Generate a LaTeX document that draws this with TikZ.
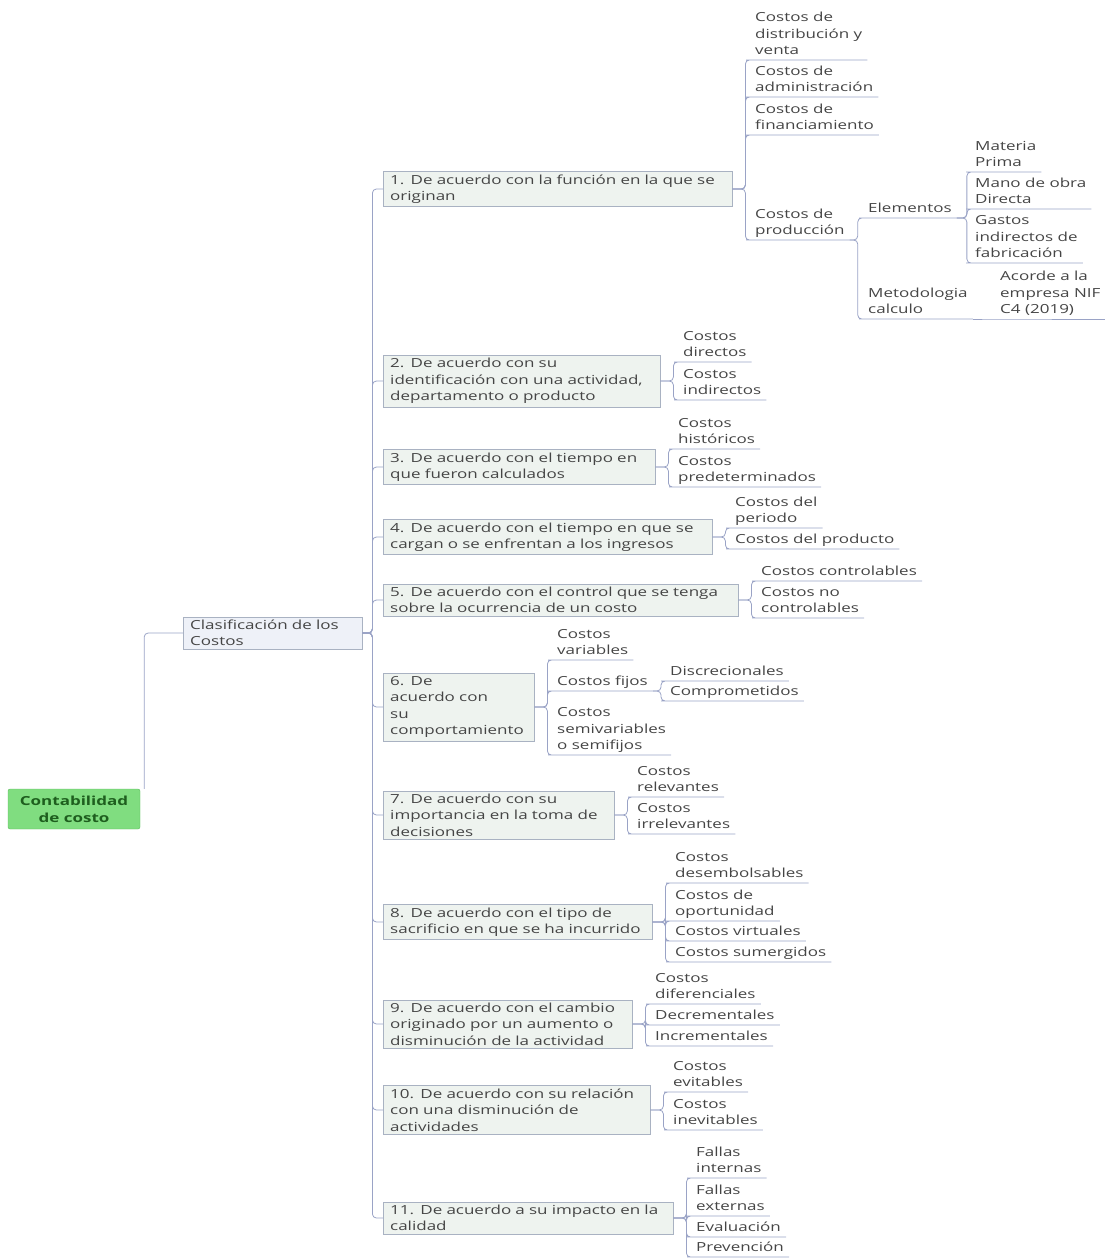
\documentclass[tikz,border=0pt]{standalone}
\usepackage{fontspec}
\setmainfont{Open Sans}[FakeStretch=1.36]
\usepackage{tikz}
\newcommand{\mmfont}{\fontsize{12.5}{16.5}\selectfont}
\definecolor{linecol}{HTML}{9AA3C6}
\definecolor{boxfill}{HTML}{EEF3EF}
\definecolor{boxdraw}{HTML}{A9B2C2}
\definecolor{txtcol}{HTML}{454545}
\definecolor{rootfill}{HTML}{80DD80}
\definecolor{rootdraw}{HTML}{5DBB5D}
\definecolor{roottxt}{HTML}{1E5E1E}
\definecolor{clsfill}{HTML}{EEF1F8}
\tikzstyle{branch} = [
    rectangle, draw=boxdraw, fill=boxfill, anchor=west, align=left,
    inner xsep=7pt, inner ysep=3pt, text=txtcol
]
\tikzstyle{leaf} = [
    anchor=south west, align=left, inner xsep=5pt, inner ysep=2pt,
    text depth=3pt, text=txtcol
]
\tikzstyle{conn} = [draw=linecol, line width=0.8pt, rounded corners=4pt]

\begin{document}
\begin{tikzpicture}[x=1pt, y=-1pt, font=\mmfont]
        \useasboundingbox (0,0) rectangle (1104,1258);
        \node (root) [rectangle, draw=rootdraw, fill=rootfill, rounded corners=2pt,
            minimum width=132pt, minimum height=40pt, align=center, text=roottxt,
            font=\fontsize{12.5}{17}\selectfont\bfseries] at (74,809)
            {Contabilidad\\de costo};
        \node (clasif) [branch, fill=clsfill, text width=165pt] at (183,633)
            {Clasificación de los\\Costos};

        \node (b1) [branch, text width=335pt] at (383,189)
            {1. De acuerdo con la función en la que se\\originan};
        \node (b2) [branch, text width=263pt] at (383,381)
            {2. De acuerdo con su\\identificación con una actividad,\\departamento o producto};
        \node (b3) [branch, text width=258pt] at (383,467)
            {3. De acuerdo con el tiempo en\\que fueron calculados};
        \node (b4) [branch, text width=315pt] at (383,537)
            {4. De acuerdo con el tiempo en que se\\cargan o se enfrentan a los ingresos};
        \node (b5) [branch, text width=341pt] at (383,600)
            {5. De acuerdo con el control que se tenga\\sobre la ocurrencia de un costo};
        \node (b6) [branch, text width=137pt] at (383,707)
            {6. De\\acuerdo con\\su\\comportamiento};
        \node (b7) [branch, text width=217pt] at (383,815)
            {7. De acuerdo con su\\importancia en la toma de\\decisiones};
        \node (b8) [branch, text width=255pt] at (383,922)
            {8. De acuerdo con el tipo de\\sacrificio en que se ha incurrido};
        \node (b9) [branch, text width=235pt] at (383,1024)
            {9. De acuerdo con el cambio\\originado por un aumento o\\disminución de la actividad};
        \node (b10) [branch, text width=253pt] at (383,1110)
            {10. De acuerdo con su relación\\con una disminución de\\actividades};
        \node (b11) [branch, text width=276pt] at (383,1218)
            {11. De acuerdo a su impacto en la\\calidad};

        \node (c11) [leaf] at (750,60) {Costos de\\distribución y\\venta};
        \node (c12) [leaf] at (750,97) {Costos de\\administración};
        \node (c13) [leaf] at (750,135) {Costos de\\financiamiento};
        \node (c14) [leaf] at (750,240) {Costos de\\producción};
        \node (e1) [leaf] at (863,218) {Elementos};
        \node (m1) [leaf] at (863,319) {Metodologia\\calculo};
        \node (e11) [leaf] at (970,172) {Materia\\Prima};
        \node (e12) [leaf] at (970,209) {Mano de obra\\Directa};
        \node (e13) [leaf] at (970,263) {Gastos\\indirectos de\\fabricación};
        \node (m11) [leaf] at (995,319) {Acorde a la\\empresa NIF\\C4 (2019)};

        \node (c21) [leaf] at (678,362) {Costos\\directos};
        \node (c22) [leaf] at (678,400) {Costos\\indirectos};
        \node (c31) [leaf] at (673,449) {Costos\\históricos};
        \node (c32) [leaf] at (673,487) {Costos\\predeterminados};
        \node (c41) [leaf] at (730,528) {Costos del\\periodo};
        \node (c42) [leaf] at (730,549) {Costos del producto};
        \node (c51) [leaf] at (756,581) {Costos controlables};
        \node (c52) [leaf] at (756,618) {Costos no\\controlables};
        \node (c61) [leaf] at (552,660) {Costos\\variables};
        \node (c62) [leaf] at (552,691) {Costos fijos};
        \node (c63) [leaf] at (552,755) {Costos\\semivariables\\o semifijos};
        \node (f1) [leaf] at (665,681) {Discrecionales};
        \node (f2) [leaf] at (665,701) {Comprometidos};
        \node (c71) [leaf] at (632,797) {Costos\\relevantes};
        \node (c72) [leaf] at (632,834) {Costos\\irrelevantes};
        \node (c81) [leaf] at (670,883) {Costos\\desembolsables};
        \node (c82) [leaf] at (670,921) {Costos de\\oportunidad};
        \node (c83) [leaf] at (670,941) {Costos virtuales};
        \node (c84) [leaf] at (670,962) {Costos sumergidos};
        \node (c91) [leaf] at (650,1004) {Costos\\diferenciales};
        \node (c92) [leaf] at (650,1025) {Decrementales};
        \node (c93) [leaf] at (650,1046) {Incrementales};
        \node (c101) [leaf] at (668,1092) {Costos\\evitables};
        \node (c102) [leaf] at (668,1130) {Costos\\inevitables};
        \node (c111) [leaf] at (691,1178) {Fallas\\internas};
        \node (c112) [leaf] at (691,1216) {Fallas\\externas};
        \node (c113) [leaf] at (691,1237) {Evaluación};
        \node (c114) [leaf] at (691,1257) {Prevención};

        \draw [conn] ([xshift=4pt]root.north east) |- (clasif.west);
        \draw [conn] (clasif.east) -- ++(10,0) |- (b1.west);
        \draw [conn] (clasif.east) -- ++(10,0) |- (b2.west);
        \draw [conn] (clasif.east) -- ++(10,0) |- (b3.west);
        \draw [conn] (clasif.east) -- ++(10,0) |- (b4.west);
        \draw [conn] (clasif.east) -- ++(10,0) |- (b5.west);
        \draw [conn] (clasif.east) -- ++(10,0) |- (b6.west);
        \draw [conn] (clasif.east) -- ++(10,0) |- (b7.west);
        \draw [conn] (clasif.east) -- ++(10,0) |- (b8.west);
        \draw [conn] (clasif.east) -- ++(10,0) |- (b9.west);
        \draw [conn] (clasif.east) -- ++(10,0) |- (b10.west);
        \draw [conn] (clasif.east) -- ++(10,0) |- (b11.west);

        \draw [conn] (b1.east) -- ++(13,0) |- (c11.south west) -- (c11.south east);
        \draw [conn] (b1.east) -- ++(13,0) |- (c12.south west) -- (c12.south east);
        \draw [conn] (b1.east) -- ++(13,0) |- (c13.south west) -- (c13.south east);
        \draw [conn] (b1.east) -- ++(13,0) |- (c14.south west) -- (c14.south east);
        \draw [conn] (c14.south east) -- ++(8,0) |- (e1.south west) -- (e1.south east);
        \draw [conn] (c14.south east) -- ++(8,0) |- (m1.south west) -- (m1.south east);
        \draw [conn] (e1.south east) -- ++(10,0) |- (e11.south west) -- (e11.south east);
        \draw [conn] (e1.south east) -- ++(10,0) |- (e12.south west) -- (e12.south east);
        \draw [conn] (e1.south east) -- ++(10,0) |- (e13.south west) -- (e13.south east);
        \draw [conn] (m1.south east) -- (m11.south west) -- (m11.south east);

        \draw [conn] (b2.east) -- ++(13,0) |- (c21.south west) -- (c21.south east);
        \draw [conn] (b2.east) -- ++(13,0) |- (c22.south west) -- (c22.south east);
        \draw [conn] (b3.east) -- ++(13,0) |- (c31.south west) -- (c31.south east);
        \draw [conn] (b3.east) -- ++(13,0) |- (c32.south west) -- (c32.south east);
        \draw [conn] (b4.east) -- ++(13,0) |- (c41.south west) -- (c41.south east);
        \draw [conn] (b4.east) -- ++(13,0) |- (c42.south west) -- (c42.south east);
        \draw [conn] (b5.east) -- ++(13,0) |- (c51.south west) -- (c51.south east);
        \draw [conn] (b5.east) -- ++(13,0) |- (c52.south west) -- (c52.south east);
        \draw [conn] (b6.east) -- ++(13,0) |- (c61.south west) -- (c61.south east);
        \draw [conn] (b6.east) -- ++(13,0) |- (c62.south west) -- (c62.south east);
        \draw [conn] (b6.east) -- ++(13,0) |- (c63.south west) -- (c63.south east);
        \draw [conn] (c62.south east) -- ++(8,0) |- (f1.south west) -- (f1.south east);
        \draw [conn] (c62.south east) -- ++(8,0) |- (f2.south west) -- (f2.south east);
        \draw [conn] (b7.east) -- ++(13,0) |- (c71.south west) -- (c71.south east);
        \draw [conn] (b7.east) -- ++(13,0) |- (c72.south west) -- (c72.south east);
        \draw [conn] (b8.east) -- ++(13,0) |- (c81.south west) -- (c81.south east);
        \draw [conn] (b8.east) -- ++(13,0) |- (c82.south west) -- (c82.south east);
        \draw [conn] (b8.east) -- ++(13,0) |- (c83.south west) -- (c83.south east);
        \draw [conn] (b8.east) -- ++(13,0) |- (c84.south west) -- (c84.south east);
        \draw [conn] (b9.east) -- ++(13,0) |- (c91.south west) -- (c91.south east);
        \draw [conn] (b9.east) -- ++(13,0) |- (c92.south west) -- (c92.south east);
        \draw [conn] (b9.east) -- ++(13,0) |- (c93.south west) -- (c93.south east);
        \draw [conn] (b10.east) -- ++(13,0) |- (c101.south west) -- (c101.south east);
        \draw [conn] (b10.east) -- ++(13,0) |- (c102.south west) -- (c102.south east);
        \draw [conn] (b11.east) -- ++(13,0) |- (c111.south west) -- (c111.south east);
        \draw [conn] (b11.east) -- ++(13,0) |- (c112.south west) -- (c112.south east);
        \draw [conn] (b11.east) -- ++(13,0) |- (c113.south west) -- (c113.south east);
        \draw [conn] (b11.east) -- ++(13,0) |- (c114.south west) -- (c114.south east);
    \end{tikzpicture}
\end{document}
